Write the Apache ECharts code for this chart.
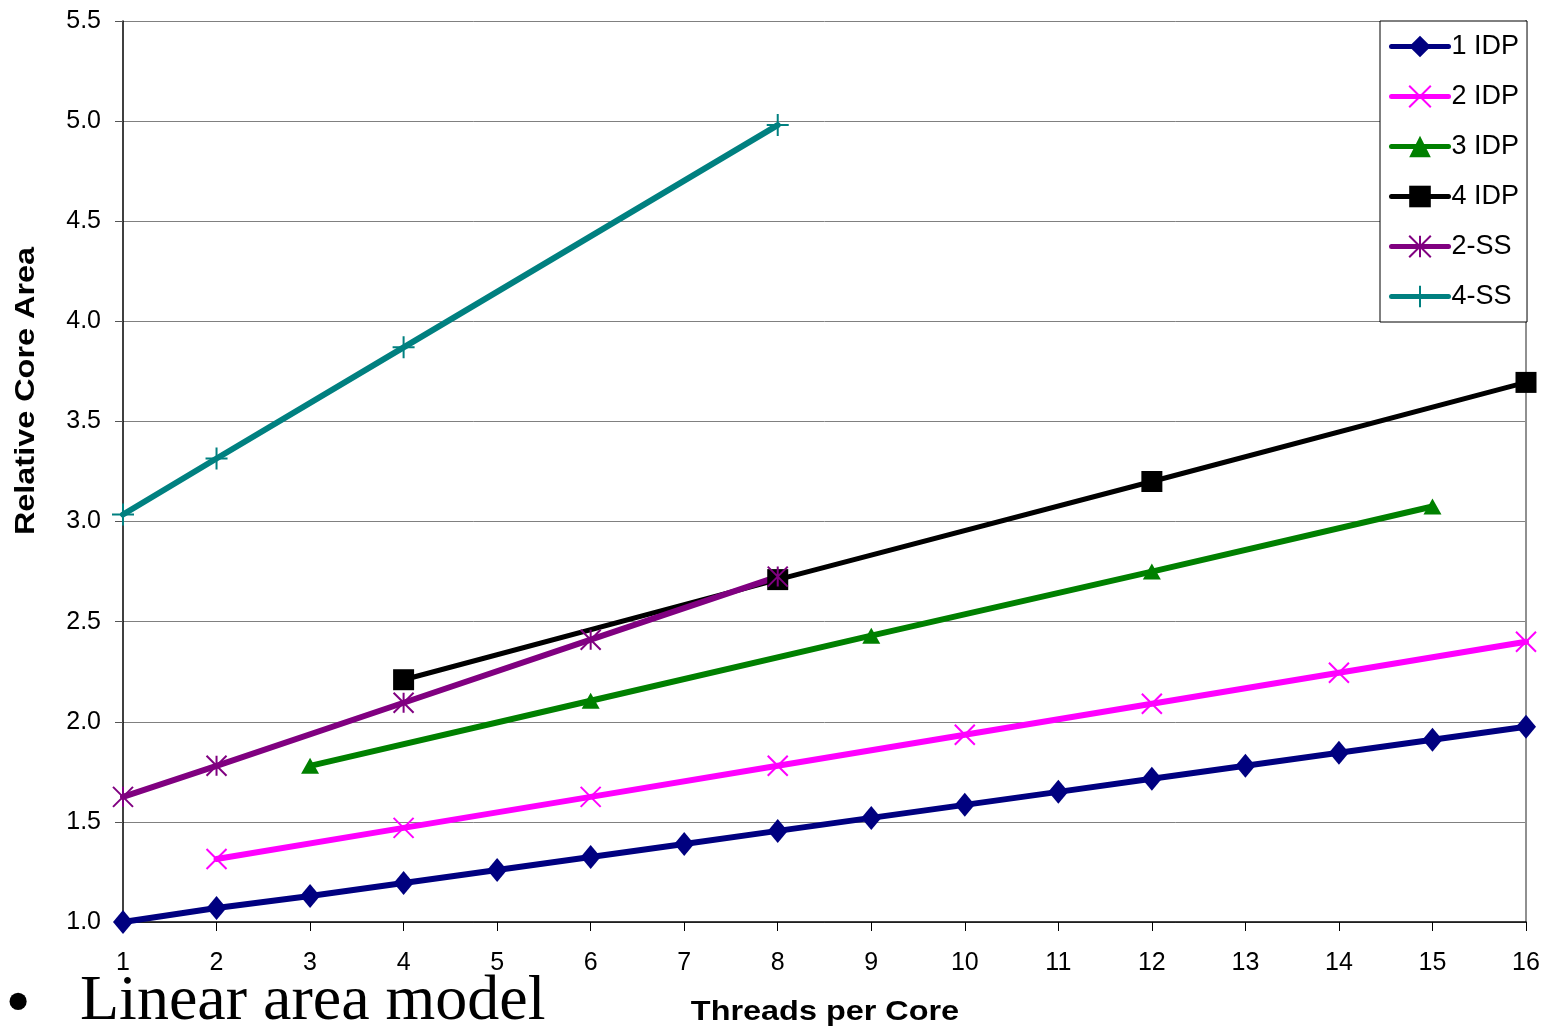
<!DOCTYPE html>
<html>
<head>
<meta charset="utf-8">
<script src="https://cdn.jsdelivr.net/npm/echarts@6/dist/echarts.min.js"></script>
<style>
html,body{margin:0;padding:0;background:#fff;}
#chart{width:1552px;height:1031px;}
</style>
</head>
<body>
<div id="chart"></div>
<script>
// ---- data ----
const seriesNames = ['1 IDP', '2 IDP', '3 IDP', '4 IDP', '2-SS', '4-SS'];
const x1IDP = [1,2,3,4,5,6,7,8,9,10,11,12,13,14,15,16];
const y1IDP = [1.00,1.07,1.13,1.195,1.26,1.325,1.39,1.455,1.52,1.585,1.65,1.715,1.78,1.845,1.91,1.975];
const x2IDP = [2,4,6,8,10,12,14,16];
const y2IDP = [1.315,1.47,1.625,1.78,1.935,2.09,2.245,2.40];
const x3IDP = [3,6,9,12,15];
const y3IDP = [1.78,2.105,2.43,2.75,3.075];
const x4IDP = [4,8,12,16];
const y4IDP = [2.21,2.71,3.20,3.695];
const x2SS = [1,2,4,6,8];
const y2SS = [1.625,1.78,2.095,2.41,2.725];
const x4SS = [1,2,4,8];
const y4SS = [3.035,3.315,3.87,4.98];
const xTitle = 'Threads per Core';
const yTitle = 'Relative Core Area';
const bulletChar = '•';
const slideText = 'Linear area model';

const pairs = (xs, ys) => xs.map((x, i) => [x, ys[i]]);

const FONT = '"Liberation Sans", Arial, sans-serif';
const SERIF = '"Liberation Serif", "Times New Roman", serif';
const X_PATH = 'path://M0,0L10,10M10,0L0,10';
const AST_PATH = 'path://M0,0L10,10M10,0L0,10M5,0L5,10';
const PLUS_PATH = 'path://M5,0L5,10M0,5L10,5';

function mk(name, data, color, symbol, size, width, stroked) {
  return {
    name, type: 'line', data,
    symbol, symbolSize: size,
    showSymbol: true,
    lineStyle: { color, width, cap: 'round' },
    itemStyle: stroked
      ? { color: 'rgba(0,0,0,0)', borderColor: color, borderWidth: 2 }
      : { color, borderWidth: 0 },
    emphasis: { disabled: true },
    animation: false,
    z: 3
  };
}

const chart = echarts.init(document.getElementById('chart'), null, { renderer: 'canvas' });
chart.setOption({
  backgroundColor: '#fff',
  animation: false,
  grid: { left: 123, right: 26, top: 21, bottom: 109, show: false },
  xAxis: {
    type: 'value', min: 1, max: 16, interval: 1,
    axisLine: { show: true, lineStyle: { color: '#000', width: 1.5 } },
    axisTick: { show: true, inside: false, length: 9, lineStyle: { color: '#000' } },
    axisLabel: { fontFamily: FONT, fontSize: 25, color: '#000', margin: 29 },
    splitLine: { show: false }
  },
  yAxis: [{
    type: 'value', min: 1, max: 5.5, interval: 0.5,
    axisLine: { show: true, lineStyle: { color: '#000', width: 1.5 } },
    axisTick: { show: true, inside: false, length: 8, lineStyle: { color: '#555' } },
    axisLabel: { fontFamily: FONT, fontSize: 25, color: '#000', margin: 22,
      formatter: v => v.toFixed(1) },
    splitLine: { show: true, lineStyle: { color: '#808080', width: 1 } }
  }, {
    type: 'value', min: 1, max: 5.5, interval: 0.5, position: 'right',
    axisLine: { show: true, lineStyle: { color: '#909090', width: 2 } },
    axisTick: { show: false }, axisLabel: { show: false }, splitLine: { show: false }
  }],
  legend: {
    orient: 'vertical', left: 1380, top: 21,
    backgroundColor: '#fff', borderColor: '#000', borderWidth: 1,
    padding: [12, 8, 12, 9],
    itemWidth: 57, itemHeight: 27, itemGap: 23,
    lineStyle: { width: 5, cap: 'round' },
    textStyle: { fontFamily: FONT, fontSize: 27, color: '#000', padding: [0, 0, 0, -2] },
    data: seriesNames
  },
  series: [
    mk(seriesNames[0], pairs(x1IDP, y1IDP), '#000080', 'diamond', [20, 24], 6, false),
    mk(seriesNames[1], pairs(x2IDP, y2IDP), '#FF00FF', X_PATH, 20, 6, true),
    mk(seriesNames[2], pairs(x3IDP, y3IDP), '#008000', 'triangle', [18, 16], 6, false),
    mk(seriesNames[3], pairs(x4IDP, y4IDP), '#000000', 'rect', 21, 5, false),
    mk(seriesNames[4], pairs(x2SS, y2SS), '#800080', AST_PATH, 20, 6, true),
    mk(seriesNames[5], pairs(x4SS, y4SS), '#008080', PLUS_PATH, 22, 6, true)
  ],
  graphic: [
    {
      type: 'text', x: 27, y: 391, rotation: Math.PI / 2, scaleX: 1.2,
      style: { text: yTitle, fontFamily: FONT, fontSize: 27, fontWeight: 'bold', fill: '#000',
        align: 'center', verticalAlign: 'middle' }
    },
    {
      type: 'text', x: 825, y: 1013, scaleX: 1.2,
      style: { text: xTitle, fontFamily: FONT, fontSize: 27, fontWeight: 'bold', fill: '#000',
        align: 'center', verticalAlign: 'middle' }
    },
    {
      type: 'text', x: 18, y: 1006,
      style: { text: bulletChar, fontFamily: SERIF,
        fontSize: 72, fill: '#000', align: 'center', verticalAlign: 'middle' }
    },
    {
      type: 'text', x: 80, y: 1002,
      style: { text: slideText, fontFamily: SERIF,
        fontSize: 64, fill: '#000', align: 'left', verticalAlign: 'middle' }
    }
  ]
});
</script>
</body>
</html>
